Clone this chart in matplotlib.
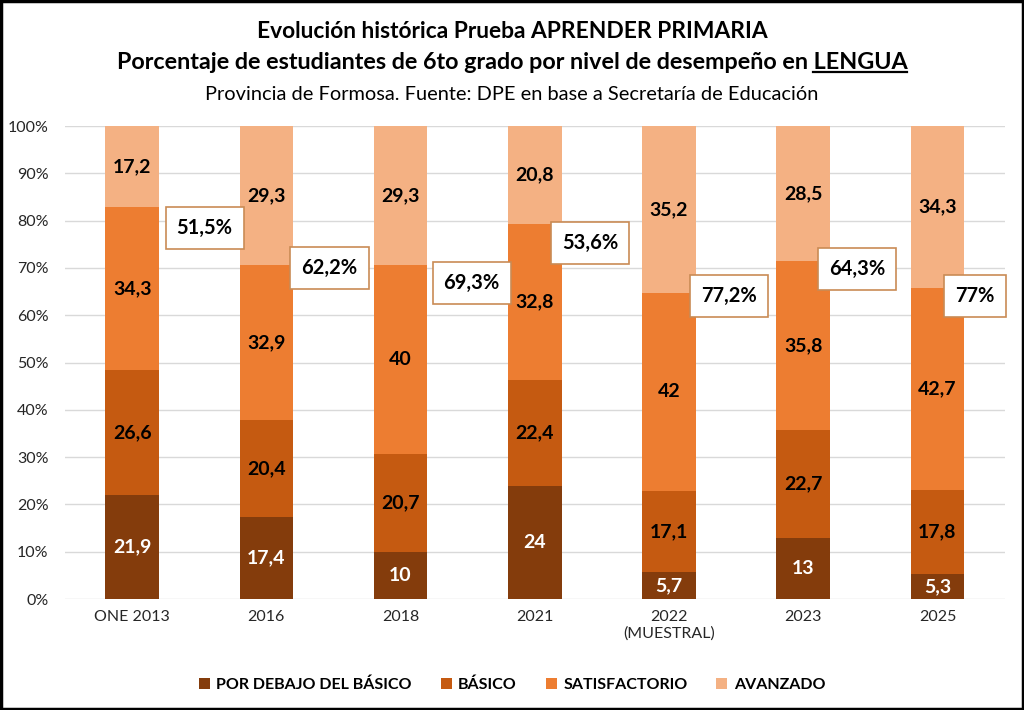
import numpy as np
import matplotlib
matplotlib.use("Agg")
import matplotlib.pyplot as plt
from matplotlib.patches import Rectangle

plt.rcParams['font.family'] = ['Lato', 'DejaVu Sans']

anios = ["ONE 2013", "2016", "2018", "2021", "2022\n(MUESTRAL)", "2023", "2025"]
debajo = [21.9, 17.4, 10, 24, 5.7, 13, 5.3]
basico = [26.6, 20.4, 20.7, 22.4, 17.1, 22.7, 17.8]
satisf = [34.3, 32.9, 40, 32.8, 42, 35.8, 42.7]
avanz = [17.2, 29.3, 29.3, 20.8, 35.2, 28.5, 34.3]
total_sat = ["51,5%", "62,2%", "69,3%", "53,6%", "77,2%", "64,3%", "77%"]

niveles = ["POR DEBAJO DEL BÁSICO", "BÁSICO", "SATISFACTORIO", "AVANZADO"]
colores = ["#843C0C", "#C55A11", "#ED7D31", "#F4B183"]
col_txt = ["white", "black", "black", "black"]
# ubicacion de las cajas de porcentaje (solo posicion)
caja_dx = [0.54, 0.47, 0.53, 0.41, 0.45, 0.40, 0.28]
caja_y = [78.4, 70, 66.8, 75.3, 64, 69.8, 64]

fig = plt.figure(figsize=(10.24, 7.1), dpi=100)
ax = fig.add_axes([0.0635, 0.1563, 0.9175, 0.6662])

x = np.arange(len(anios))
base = np.zeros(len(anios))
series = [debajo, basico, satisf, avanz]
for s, nom, c, ct in zip(series, niveles, colores, col_txt):
    vals = np.array(s, dtype=float)
    ax.bar(x, vals, 0.4, bottom=base, color=c, label=nom, zorder=3)
    for i in range(len(x)):
        txt = ("%g" % vals[i]).replace(".", ",")
        ax.text(x[i], base[i] + vals[i] / 2, txt, ha="center", va="center",
                color=ct, fontsize=14, fontweight="bold", zorder=4)
    base = base + vals

for i in range(len(x)):
    ax.text(x[i] + caja_dx[i], caja_y[i], total_sat[i], ha="center", va="center",
            fontsize=14.5, fontweight="bold", zorder=5,
            bbox=dict(boxstyle="square,pad=0.55", fc="white", ec="#C98B55", lw=1.2))

ax.set_xlim(-0.5, 6.5)
ax.set_ylim(0, 100)
ax.set_yticks(np.arange(0, 101, 10))
ax.set_yticklabels(["%d%%" % v for v in range(0, 101, 10)])
ax.set_xticks(x)
ax.set_xticklabels(anios)
ax.tick_params(length=0, labelsize=11.5, colors="#262626", pad=8)
ax.tick_params(axis="y", pad=12)
ax.grid(axis="y", color="#D9D9D9", lw=1, zorder=0)
for sp in ax.spines.values():
    sp.set_visible(False)

fig.text(0.5, 0.956, "Evolución histórica Prueba APRENDER PRIMARIA", ha="center",
         va="center", fontsize=16.4, fontweight="bold")
t2 = fig.text(0.5, 0.912, "Porcentaje de estudiantes de 6to grado por nivel de desempeño en LENGUA",
              ha="center", va="center", fontsize=16.8, fontweight="bold")
fig.text(0.5, 0.867, "Provincia de Formosa. Fuente: DPE en base a Secretaría de Educación",
         ha="center", va="center", fontsize=14.4)

# subrayado de LENGUA
fig.canvas.draw()
r = fig.canvas.get_renderer()
bb = t2.get_window_extent(r)
tmp = fig.text(0, 0, "LENGUA", fontsize=16.8, fontweight="bold")
w = tmp.get_window_extent(r).width
tmp.remove()
W, H = fig.bbox.width, fig.bbox.height
yl = (bb.y0 + 1) / H
fig.add_artist(plt.Line2D([(bb.x1 - w) / W, bb.x1 / W], [yl, yl], color="black", lw=1.6))

fig.legend(loc="center", bbox_to_anchor=(0.5, 0.036), ncol=4, frameon=False,
           prop={"weight": "bold", "size": 11.5}, handlelength=0.7, handleheight=0.7,
           columnspacing=1.8, handletextpad=0.4)

fig.add_artist(Rectangle((0.001, 0.001), 0.998, 0.998, transform=fig.transFigure,
                         fill=False, ec="black", lw=2.5))

fig.savefig("out.png", dpi=100)
